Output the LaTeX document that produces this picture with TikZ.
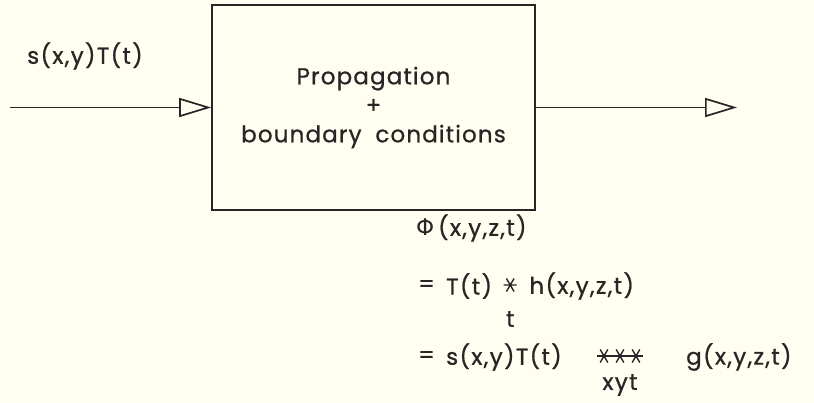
\documentclass[tikz,border=0pt]{standalone}
\usepackage{fontspec}
\setmainfont{Poppins}[FakeBold=0.8]
\newfontfamily\grk{DejaVu Sans}
\usetikzlibrary{arrows.meta,calc}
\begin{document}
\begin{tikzpicture}[x=1pt,y=-1pt,
  wire/.style={line width=1.7pt, draw=black!85},
  opentip/.style={-{Triangle[open,length=32pt,width=19pt,line width=1.7pt]}},
  lbl/.style={font=\fontsize{23}{27}\selectfont\addfontfeatures{LetterSpace=6}, inner sep=0pt, text=black!85},
  conv/.pic={\draw[line width=1.4pt, black!85] (-6.5,0)--(6.5,0) (-3.8,-6.5)--(3.8,6.5) (-3.8,6.5)--(3.8,-6.5);}
]
\useasboundingbox (0,0) rectangle (814,403);
\fill[white!94!yellow] (0,0) rectangle (814,403);
% block
\node[wire, draw, minimum width=323pt, minimum height=205pt, inner sep=0pt,
      align=center, font=\fontsize{23}{29}\selectfont\addfontfeatures{LetterSpace=5}, text=black!85]
      (box) at (373.5,107.5) {Propagation\\+\\boundary\hspace{0.6em}conditions};
\coordinate (in) at (10,107.5);
\coordinate (out) at (737,107.5);
\draw[wire, opentip] (in) -- (box.west);
\draw[wire, opentip] (box.east) -- (out);
\node[lbl, anchor=west] (src) at (27,56) {s(x,y)T(t)};
% output formulas
\node[lbl, anchor=west] (phi) at (416,228) {{\grk Φ}\,(x,y,z,t)};
\node[lbl, anchor=west] (eq1) at (418,286) {=};
\node[lbl, anchor=west] (tt) at (446,286) {T(t)};
\coordinate (s1) at ($(tt.east)+(18,-1)$);
\pic at (s1) {conv};
\node[lbl] (sub1) at ($(s1)+(0,34)$) {t};
\node[lbl, anchor=west] (hh) at ($(s1)+(19,1)$) {h(x,y,z,t)};
\node[lbl, anchor=west] (eq2) at (418,357) {=};
\node[lbl, anchor=west] (st) at (446,357) {s(x,y)T(t)};
\coordinate (s3) at (620,356);
\draw[line width=1.4pt, black!85] ($(s3)+(-23,0)$) -- ($(s3)+(23,0)$);
\pic at ($(s3)+(-16,0)$) {conv};
\pic at (s3) {conv};
\pic at ($(s3)+(16,0)$) {conv};
\node[lbl] (sub3) at ($(s3)+(0,29)$) {xyt};
\node[lbl, anchor=west] (gg) at (686,357) {g(x,y,z,t)};
\end{tikzpicture}
\end{document}
